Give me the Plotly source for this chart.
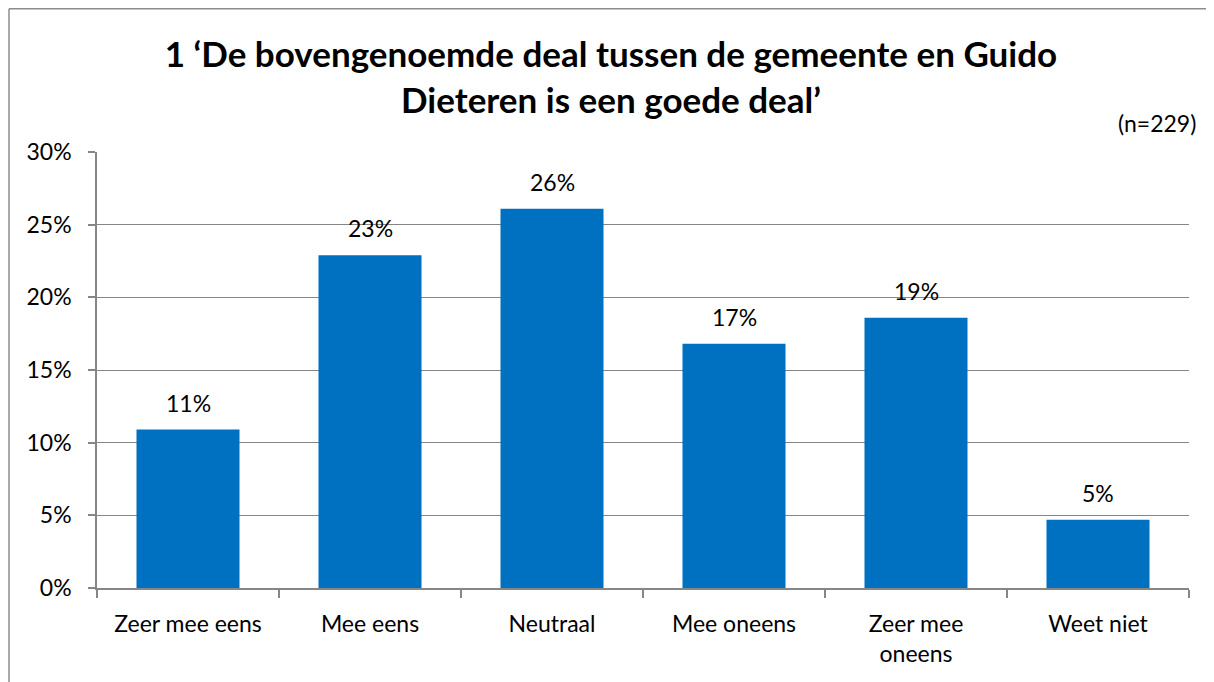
import plotly.graph_objects as go

categories = ["Zeer mee eens", "Mee eens", "Neutraal", "Mee oneens", "Zeer mee<br>oneens", "Weet niet"]
values = [10.9, 22.9, 26.1, 16.8, 18.6, 4.7]
y_ticks = [0, 5, 10, 15, 20, 25, 30]
y_tick_labels = ["0%", "5%", "10%", "15%", "20%", "25%", "30%"]

FONT = "Lato"
GRID = "#868686"

# page body adds an 8px offset; figure is sized to fit the 1214x682 window
W, H = 1206, 674
L, R, T, B = 89, 25, 144, 94
PW, PH = W - L - R, H - T - B

fig = go.Figure(go.Bar(
    x=categories, y=values,
    marker=dict(color="#0070C0", line=dict(width=0)),
    cliponaxis=False,
))

annotations = [
    dict(x=c, y=v, xref="x", yref="y", text=f"{round(v)}%", showarrow=False,
         yanchor="bottom", yshift=11, font=dict(size=23, family=FONT, color="black"))
    for c, v in zip(categories, values)
]
annotations.append(dict(text="(n=229)", xref="paper", yref="paper",
                        x=1 + 9 / PW, y=1 + 13 / PH, xanchor="right", yanchor="bottom",
                        showarrow=False, font=dict(size=23, family=FONT, color="black")))

fig.update_layout(
    width=W, height=H,
    margin=dict(l=L, r=R, t=T, b=B, autoexpand=False),
    paper_bgcolor="white", plot_bgcolor="white",
    bargap=0.434,
    showlegend=False,
    font=dict(family=FONT, size=23, color="black"),
    title=dict(
        text="1 ‘De bovengenoemde deal tussen de gemeente en Guido<br>Dieteren is een goede deal’",
        x=0.5, xanchor="center", y=1 - 59 / H, yanchor="middle",
        font=dict(family=FONT, size=35, color="black", weight="bold"),
    ),
    xaxis=dict(
        showline=True, linecolor=GRID, linewidth=1.5,
        ticks="outside", tickson="boundaries", ticklen=8, tickcolor=GRID, tickwidth=1.5,
        tickfont=dict(size=23, family=FONT, color="black"), showgrid=False,
        ticklabelstandoff=15,
    ),
    yaxis=dict(
        range=[0, 30], tickmode="array", tickvals=y_ticks, ticktext=y_tick_labels,
        showline=True, linecolor=GRID, linewidth=1.5,
        ticks="outside", ticklen=7, tickcolor=GRID, tickwidth=1.5,
        showgrid=True, gridcolor=GRID, gridwidth=1.3,
        zeroline=False, tickfont=dict(size=23, family=FONT, color="black"),
        ticklabelstandoff=12,
    ),
    shapes=[
        dict(type="line", xref="paper", yref="paper",
             x0=(1 - L) / PW, x1=(W - L) / PW, y0=1 + (T - 0.75) / PH, y1=1 + (T - 0.75) / PH,
             line=dict(color="#8c8c8c", width=1.5)),
        dict(type="line", xref="paper", yref="paper",
             x0=(1 - L) / PW, x1=(1 - L) / PW, y0=1 + (T - 0.75) / PH, y1=-B / PH,
             line=dict(color="#8c8c8c", width=1.5)),
    ],
    annotations=annotations,
)

fig.write_html("out.html")
